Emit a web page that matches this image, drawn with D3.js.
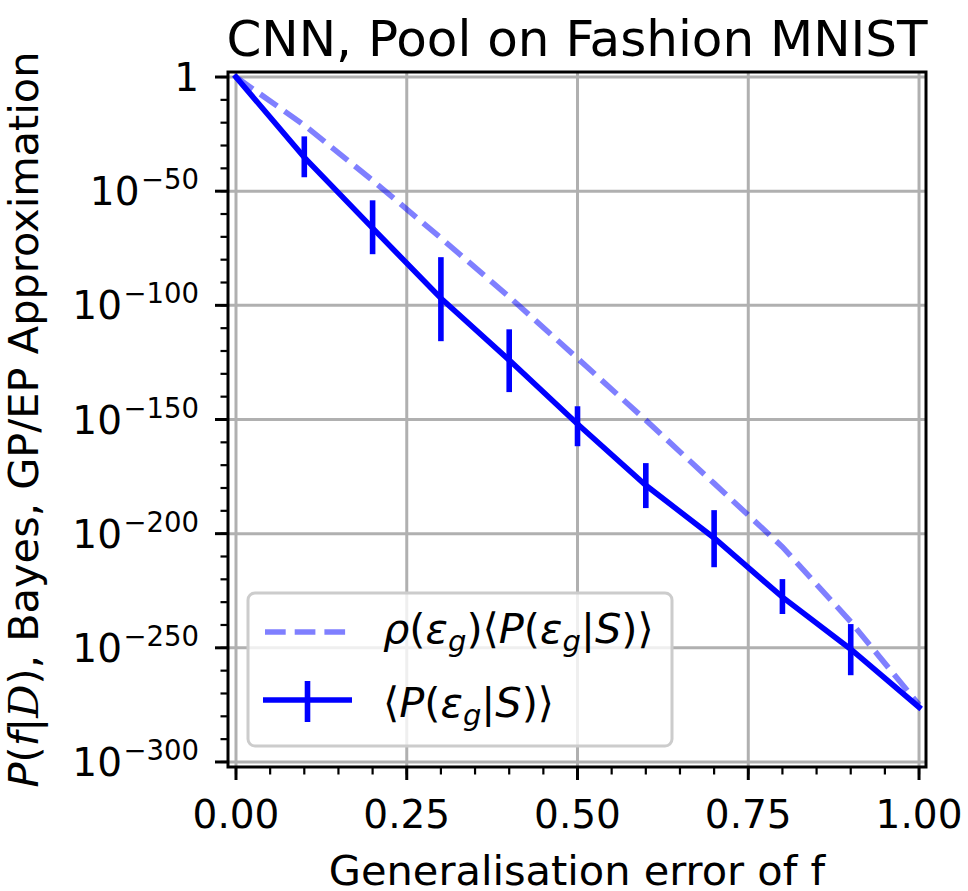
<!DOCTYPE html>
<html>
<head>
<meta charset="utf-8">
<script src="https://cdn.jsdelivr.net/npm/d3@7"></script>
<style>
body { margin: 0; background: #fff; }
svg { display: block; }
text { font-family: "DejaVu Sans", sans-serif; fill: #000; }
</style>
</head>
<body>
<svg width="968" height="891"></svg>
<script>
// data (y values kept as powers of ten)
const errorX = [0, 0.1, 0.2, 0.3, 0.4, 0.5, 0.6, 0.7, 0.8, 0.9, 1.0];
const meanExp = [0, -35.2, -66.2, -96.9, -124.0, -152.0, -178.8, -201.9, -227.8, -250.6, -276];
const weightedExp = [0, -21.1, -45.3, -70.5, -96.3, -123.2, -150.3, -178, -205.8, -238.6, -275];
const barX = [0.1, 0.2, 0.3, 0.4, 0.5, 0.6, 0.7, 0.8, 0.9];
const barLowExp = [-43.9, -77.6, -115.7, -138.0, -161.7, -188.8, -214.7, -235.2, -262.0];
const barHighExp = [-26.0, -54.0, -78.9, -110.5, -144.2, -169.1, -189.7, -219.9, -239.6];
const xTicks = [0, 0.25, 0.5, 0.75, 1];
const xTickLabels = ["0.00", "0.25", "0.50", "0.75", "1.00"];
const yTickExp = [0, -50, -100, -150, -200, -250, -300];

const svg = d3.select("svg");
const pLeft = 228, pRight = 926, pTop = 72, pBottom = 767;
const blue = "#0000ff";
const lw = 5.6;
const labelSize = 41.5;

const x = d3.scaleLinear().domain([-0.0117, 1.0102]).range([pLeft, pRight]);
const y = d3.scaleLog().domain([Math.pow(10, -302.2), Math.pow(10, 2.2)]).range([pBottom, pTop]);
const p = e => Math.pow(10, e);

//grid
const grid = svg.append("g").attr("stroke", "#b0b0b0").attr("stroke-width", 3);
xTicks.forEach(t => {
    grid.append("line").attr("x1", x(t)).attr("x2", x(t)).attr("y1", pTop).attr("y2", pBottom);
});
yTickExp.forEach(e => {
    grid.append("line").attr("x1", pLeft).attr("x2", pRight).attr("y1", y(p(e))).attr("y2", y(p(e)));
});

//dashed curve
const line = d3.line().x(d => x(d[0])).y(d => y(p(d[1])));
svg.append("path")
    .attr("d", line(errorX.map((v, i) => [v, weightedExp[i]])))
    .attr("fill", "none")
    .attr("stroke", blue)
    .attr("stroke-opacity", 0.5)
    .attr("stroke-width", lw)
    .attr("stroke-dasharray", "20.7,9");

//solid curve with error bars
svg.append("path")
    .attr("d", line(errorX.map((v, i) => [v, meanExp[i]])))
    .attr("fill", "none")
    .attr("stroke", blue)
    .attr("stroke-width", lw)
    .attr("stroke-linecap", "square");

barX.forEach((v, i) => {
    svg.append("line")
        .attr("x1", x(v)).attr("x2", x(v))
        .attr("y1", y(p(barLowExp[i]))).attr("y2", y(p(barHighExp[i])))
        .attr("stroke", blue)
        .attr("stroke-width", lw);
});

//spines
svg.append("rect")
    .attr("x", pLeft).attr("y", pTop)
    .attr("width", pRight - pLeft).attr("height", pBottom - pTop)
    .attr("fill", "none").attr("stroke", "#000").attr("stroke-width", 3);

//x axis ticks
const xMinor = d3.range(0, 1.0001, 0.05);
xMinor.forEach(t => {
    svg.append("line").attr("x1", x(t)).attr("x2", x(t)).attr("y1", pBottom).attr("y2", pBottom + 7.5)
        .attr("stroke", "#000").attr("stroke-width", 2.2);
});
xTicks.forEach((t, i) => {
    svg.append("line").attr("x1", x(t)).attr("x2", x(t)).attr("y1", pBottom).attr("y2", pBottom + 13)
        .attr("stroke", "#000").attr("stroke-width", 3);
    svg.append("text").attr("x", x(t)).attr("y", 828)
        .attr("text-anchor", "middle").attr("font-size", 39)
        .text(xTickLabels[i]);
});

//y axis ticks
d3.range(0, -301, -10).forEach(e => {
    svg.append("line").attr("x1", pLeft).attr("x2", pLeft - 7.5).attr("y1", y(p(e))).attr("y2", y(p(e)))
        .attr("stroke", "#000").attr("stroke-width", 2.2);
});
yTickExp.forEach(e => {
    const yy = y(p(e));
    svg.append("line").attr("x1", pLeft).attr("x2", pLeft - 13).attr("y1", yy).attr("y2", yy)
        .attr("stroke", "#000").attr("stroke-width", 3);
    const t = svg.append("text").attr("x", 199).attr("text-anchor", "end").attr("font-size", 39);
    if (e === 0) {
        t.attr("y", yy + 14).text("1");
    } else {
        t.attr("y", yy + 14);
        t.append("tspan").text("10");
        t.append("tspan").attr("dx", 1.5).attr("dy", -16).attr("font-size", 27.5).text("\u2212" + (-e));
    }
});

//title and labels
svg.append("text").attr("x", (pLeft + pRight) / 2).attr("y", 56)
    .attr("text-anchor", "middle").attr("font-size", 50)
    .text("CNN, Pool on Fashion MNIST");

svg.append("text").attr("x", (pLeft + pRight) / 2).attr("y", 885)
    .attr("text-anchor", "middle").attr("font-size", labelSize)
    .text("Generalisation error of f");

const yl = svg.append("text")
    .attr("transform", `translate(38,${(pTop + pBottom) / 2}) rotate(-90)`)
    .attr("text-anchor", "middle").attr("font-size", labelSize);
yl.append("tspan").attr("font-style", "italic").text("P");
yl.append("tspan").text("(");
yl.append("tspan").attr("font-style", "italic").text("f");
yl.append("tspan").text("|");
yl.append("tspan").attr("font-family", "DejaVu Serif").attr("font-style", "italic").text("D");
yl.append("tspan").text("), Bayes, GP/EP Approximation");

//legend
const lg = svg.append("g");
lg.append("rect")
    .attr("x", 248).attr("y", 593).attr("width", 424).attr("height", 153).attr("rx", 7)
    .attr("fill", "#fff").attr("fill-opacity", 0.8)
    .attr("stroke", "#cccccc").attr("stroke-width", 3);
lg.append("line").attr("x1", 265).attr("x2", 350).attr("y1", 632).attr("y2", 632)
    .attr("stroke", blue).attr("stroke-opacity", 0.5).attr("stroke-width", lw)
    .attr("stroke-dasharray", "20.7,9");
lg.append("line").attr("x1", 263).attr("x2", 352).attr("y1", 700).attr("y2", 700)
    .attr("stroke", blue).attr("stroke-width", lw);
lg.append("line").attr("x1", 307.5).attr("x2", 307.5).attr("y1", 681).attr("y2", 722)
    .attr("stroke", blue).attr("stroke-width", lw);

function mathLabel(sel, parts) {
    parts.forEach(pt => {
        const s = sel.append("tspan").text(pt[0]);
        if (pt[1] === "i") s.attr("font-style", "italic");
        if (pt[1] === "sub") s.attr("font-style", "italic").attr("font-size", 29).attr("dy", 8);
        if (pt[2]) s.attr("dy", pt[2]);
    });
}
const l1 = lg.append("text").attr("x", 383).attr("y", 643).attr("font-size", labelSize);
mathLabel(l1, [["\u03c1", "i"], ["("], ["\u03b5", "i"], ["g", "sub"], [")", "", -8], ["\u27e8"], ["P", "i"], ["("],
    ["\u03b5", "i"], ["g", "sub"], ["|", "", -8], ["S", "i"], [")"], ["\u27e9"]]);
const l2 = lg.append("text").attr("x", 383).attr("y", 717).attr("font-size", labelSize);
mathLabel(l2, [["\u27e8"], ["P", "i"], ["("], ["\u03b5", "i"], ["g", "sub"], ["|", "", -8], ["S", "i"], [")"], ["\u27e9"]]);
</script>
</body>
</html>
